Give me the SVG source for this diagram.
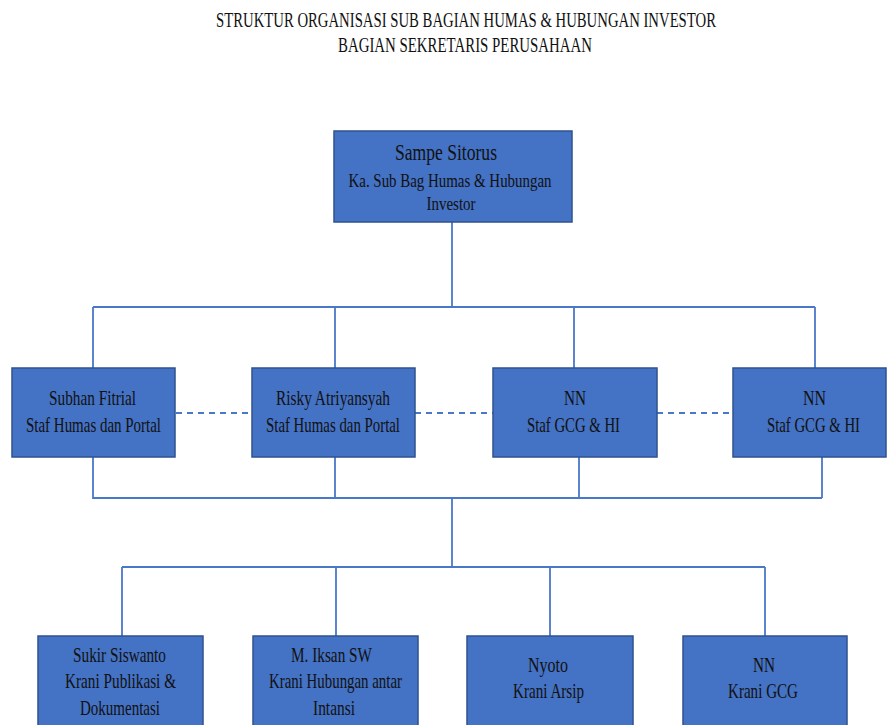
<svg xmlns="http://www.w3.org/2000/svg" width="887" height="725" viewBox="0 0 887 725">
<style>
.box{fill:#4472C4;stroke:#2F528F;stroke-width:1.5}
.t{font-family:"Liberation Serif","Times New Roman",serif;fill:#111;text-anchor:middle}
.ln{fill:none;stroke:#4A78C8;stroke-width:1.8}
.dash{fill:none;stroke:#4A78C8;stroke-width:1.8;stroke-dasharray:6,5}
</style>
<rect width="887" height="725" fill="#fff"/>
<g id="title">
<text class="t" x="466" y="27" font-size="21" textLength="500" lengthAdjust="spacingAndGlyphs">STRUKTUR ORGANISASI SUB BAGIAN HUMAS &amp; HUBUNGAN INVESTOR</text>
<text class="t" x="465" y="52" font-size="21" textLength="254" lengthAdjust="spacingAndGlyphs">BAGIAN SEKRETARIS PERUSAHAAN</text>
</g>
<g id="connectors">
<path class="ln" d="M452 222V307M93 307H815M93 307V368M335 307V368M574 307V368M815 307V368"/>
<path class="ln" d="M93 457V498H822M335 457V498M579 457V498M822 457V498M452 498V567"/>
<path class="ln" d="M122 567H765M122 567V636M336 567V636M550 567V636M765 567V636"/>
<path class="dash" d="M176 413H251M415 413H493M657 413H733"/>
</g>
<g id="n-sampe">
<rect class="box" x="334" y="131" width="238" height="91"/>
<text class="t" x="446" y="160" font-size="24" textLength="102" lengthAdjust="spacingAndGlyphs">Sampe Sitorus</text>
<text class="t" x="450" y="187" font-size="18" textLength="203" lengthAdjust="spacingAndGlyphs">Ka. Sub Bag Humas &amp; Hubungan</text>
<text class="t" x="451" y="210" font-size="18" textLength="49" lengthAdjust="spacingAndGlyphs">Investor</text>
</g>
<g id="n-subhan">
<rect class="box" x="12" y="368" width="163" height="89"/>
<text class="t" x="92.5" y="405" font-size="22" textLength="87" lengthAdjust="spacingAndGlyphs">Subhan Fitrial</text>
<text class="t" x="93.5" y="432" font-size="22" textLength="135" lengthAdjust="spacingAndGlyphs">Staf Humas  dan Portal</text>
</g>
<g id="n-risky">
<rect class="box" x="252" y="368" width="163" height="89"/>
<text class="t" x="333" y="405" font-size="22" textLength="114" lengthAdjust="spacingAndGlyphs">Risky Atriyansyah</text>
<text class="t" x="333" y="432" font-size="22" textLength="134" lengthAdjust="spacingAndGlyphs">Staf Humas  dan Portal</text>
</g>
<g id="n-nn1">
<rect class="box" x="493" y="368" width="164" height="89"/>
<text class="t" x="575" y="405" font-size="22" textLength="22" lengthAdjust="spacingAndGlyphs">NN</text>
<text class="t" x="573.5" y="432" font-size="22" textLength="93" lengthAdjust="spacingAndGlyphs">Staf GCG &amp; HI</text>
</g>
<g id="n-nn2">
<rect class="box" x="733" y="368" width="153" height="89"/>
<text class="t" x="814.5" y="405" font-size="22" textLength="23" lengthAdjust="spacingAndGlyphs">NN</text>
<text class="t" x="813.5" y="432" font-size="22" textLength="93" lengthAdjust="spacingAndGlyphs">Staf GCG &amp; HI</text>
</g>
<g id="n-sukir">
<rect class="box" x="38" y="636" width="165" height="100"/>
<text class="t" x="119.5" y="662" font-size="21" textLength="93" lengthAdjust="spacingAndGlyphs">Sukir Siswanto</text>
<text class="t" x="120.5" y="688" font-size="21" textLength="111" lengthAdjust="spacingAndGlyphs">Krani Publikasi &amp;</text>
<text class="t" x="120" y="715" font-size="21" textLength="80" lengthAdjust="spacingAndGlyphs">Dokumentasi</text>
</g>
<g id="n-iksan">
<rect class="box" x="253" y="636" width="165" height="100"/>
<text class="t" x="331.5" y="662" font-size="21" textLength="81" lengthAdjust="spacingAndGlyphs">M. Iksan SW</text>
<text class="t" x="335.5" y="688" font-size="21" textLength="133" lengthAdjust="spacingAndGlyphs">Krani Hubungan antar</text>
<text class="t" x="334" y="715" font-size="21" textLength="42" lengthAdjust="spacingAndGlyphs">Intansi</text>
</g>
<g id="n-nyoto">
<rect class="box" x="467" y="636" width="166" height="100"/>
<text class="t" x="548" y="672" font-size="21" textLength="40" lengthAdjust="spacingAndGlyphs">Nyoto</text>
<text class="t" x="548.5" y="698" font-size="21" textLength="71" lengthAdjust="spacingAndGlyphs">Krani Arsip</text>
</g>
<g id="n-nn3">
<rect class="box" x="683" y="636" width="164" height="100"/>
<text class="t" x="764" y="672" font-size="21" textLength="22" lengthAdjust="spacingAndGlyphs">NN</text>
<text class="t" x="763" y="698" font-size="21" textLength="70" lengthAdjust="spacingAndGlyphs">Krani GCG</text>
</g>
</svg>
